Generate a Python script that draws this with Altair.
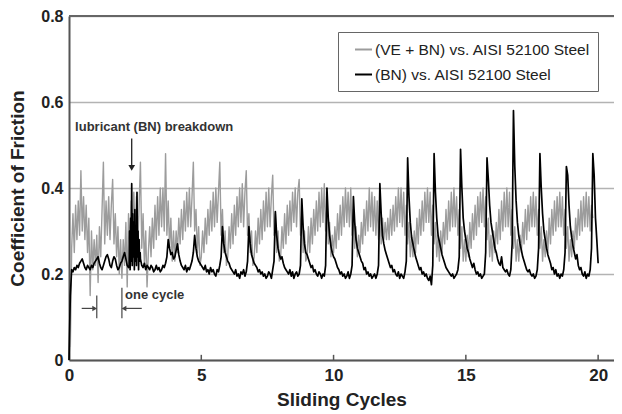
import altair as alt
import numpy as np
import pandas as pd

SERIES_GRAY = "(VE + BN) vs. AISI 52100 Steel"
SERIES_BLACK = "(BN) vs. AISI 52100 Steel"

# ---- gray series: one value every 0.05 sliding cycle, x = 0.05 ... 19.80
gray_y = [
    0.03, 0.26, 0.34, 0.25, 0.36, 0.28, 0.37, 0.29, 0.44, 0.30, 0.38, 0.28, 0.36, 0.25, 0.33, 0.15, 0.30, 0.21, 0.28,
    0.22, 0.29, 0.18, 0.31, 0.24, 0.35, 0.46, 0.27, 0.37, 0.29, 0.38, 0.28, 0.36, 0.42, 0.27, 0.34, 0.24, 0.31, 0.20, 0.28,
    0.19, 0.28, 0.22, 0.32, 0.17, 0.34, 0.26, 0.37, 0.28, 0.39, 0.29, 0.38, 0.27, 0.36, 0.46, 0.26, 0.34, 0.22, 0.30, 0.17,
    0.25, 0.31, 0.24, 0.33, 0.26, 0.36, 0.28, 0.38, 0.29, 0.40, 0.31, 0.40, 0.30, 0.48, 0.29, 0.37, 0.26, 0.33, 0.23, 0.30,
    0.23, 0.30, 0.25, 0.33, 0.27, 0.35, 0.28, 0.37, 0.30, 0.39, 0.31, 0.40, 0.31, 0.38, 0.46, 0.30, 0.35, 0.25, 0.31, 0.22,
    0.24, 0.30, 0.25, 0.33, 0.27, 0.35, 0.29, 0.37, 0.30, 0.39, 0.31, 0.40, 0.32, 0.39, 0.46, 0.29, 0.35, 0.25, 0.30, 0.22,
    0.24, 0.31, 0.26, 0.34, 0.27, 0.36, 0.29, 0.38, 0.31, 0.40, 0.32, 0.41, 0.31, 0.39, 0.44, 0.29, 0.34, 0.25, 0.30, 0.22,
    0.24, 0.30, 0.25, 0.33, 0.27, 0.35, 0.28, 0.37, 0.30, 0.39, 0.31, 0.40, 0.31, 0.38, 0.43, 0.29, 0.34, 0.25, 0.30, 0.23,
    0.24, 0.31, 0.26, 0.34, 0.27, 0.36, 0.29, 0.37, 0.30, 0.39, 0.32, 0.40, 0.31, 0.39, 0.42, 0.29, 0.34, 0.25, 0.30, 0.23,
    0.24, 0.31, 0.25, 0.33, 0.27, 0.35, 0.29, 0.37, 0.30, 0.39, 0.31, 0.40, 0.32, 0.41, 0.30, 0.36, 0.27, 0.32, 0.24, 0.29,
    0.25, 0.31, 0.26, 0.34, 0.28, 0.36, 0.29, 0.38, 0.31, 0.40, 0.32, 0.39, 0.31, 0.40, 0.29, 0.35, 0.26, 0.31, 0.24, 0.29,
    0.25, 0.32, 0.27, 0.35, 0.29, 0.37, 0.30, 0.40, 0.31, 0.39, 0.30, 0.38, 0.29, 0.37, 0.28, 0.35, 0.27, 0.33, 0.28, 0.32,
    0.28, 0.33, 0.28, 0.35, 0.29, 0.36, 0.30, 0.38, 0.31, 0.40, 0.32, 0.40, 0.31, 0.39, 0.29, 0.36, 0.27, 0.32, 0.24, 0.29,
    0.24, 0.30, 0.25, 0.33, 0.27, 0.35, 0.29, 0.37, 0.30, 0.39, 0.32, 0.40, 0.32, 0.39, 0.29, 0.36, 0.27, 0.32, 0.24, 0.29,
    0.23, 0.30, 0.25, 0.32, 0.27, 0.35, 0.28, 0.37, 0.30, 0.39, 0.31, 0.40, 0.31, 0.38, 0.29, 0.35, 0.26, 0.31, 0.23, 0.28,
    0.23, 0.29, 0.24, 0.32, 0.26, 0.34, 0.28, 0.36, 0.29, 0.38, 0.31, 0.39, 0.32, 0.40, 0.31, 0.38, 0.28, 0.33, 0.24, 0.29,
    0.23, 0.30, 0.25, 0.32, 0.27, 0.35, 0.28, 0.37, 0.30, 0.39, 0.31, 0.40, 0.31, 0.39, 0.29, 0.35, 0.26, 0.31, 0.23, 0.28,
    0.23, 0.29, 0.25, 0.32, 0.27, 0.35, 0.28, 0.36, 0.30, 0.38, 0.31, 0.39, 0.31, 0.38, 0.29, 0.35, 0.26, 0.31, 0.23, 0.28,
    0.24, 0.30, 0.25, 0.33, 0.27, 0.35, 0.29, 0.37, 0.30, 0.38, 0.31, 0.39, 0.31, 0.38, 0.29, 0.35, 0.26, 0.31, 0.23, 0.28,
    0.24, 0.30, 0.26, 0.33, 0.28, 0.35, 0.29, 0.37, 0.30, 0.38, 0.31, 0.39, 0.31, 0.38, 0.30, 0.36, 0.33,
]
gray_x0, gray_dx = 0.05, 0.05

# ---- black series, part A: every 0.05 cycle, x = 0.00 ... 2.25
black_a_y = [
    0.00, 0.15, 0.21, 0.205, 0.215, 0.21, 0.22, 0.215, 0.225, 0.23, 0.235, 0.225, 0.215, 0.21, 0.22, 0.215, 0.21, 0.22, 0.215, 0.225,
    0.23, 0.235, 0.24, 0.225, 0.215, 0.21, 0.22, 0.23, 0.24, 0.245, 0.235, 0.22, 0.215, 0.23, 0.24, 0.235, 0.22, 0.21, 0.215, 0.225,
    0.23, 0.24, 0.25, 0.235, 0.22, 0.215,
]
black_a_x0, black_a_dx = 0.00, 0.05

# part B: lubricant breakdown, every 0.02 cycle, x = 2.27 ... 2.69
black_brk_y = [
    0.22, 0.30, 0.21, 0.33, 0.23, 0.41, 0.22, 0.34, 0.24, 0.32, 0.21,
    0.35, 0.23, 0.31, 0.22, 0.39, 0.24, 0.30, 0.21, 0.28, 0.23, 0.25,
]
black_brk_x0, black_brk_dx = 2.27, 0.02

# part C: every 0.05 cycle, x = 2.70 ... 20.00
black_c_y = [
    0.235, 0.22, 0.215, 0.225, 0.21, 0.22,
    0.215, 0.21, 0.22, 0.215, 0.205, 0.21, 0.22, 0.21, 0.215, 0.205, 0.21, 0.22, 0.215, 0.225, 0.24, 0.28, 0.26, 0.245, 0.25, 0.235,
    0.24, 0.255, 0.27, 0.245, 0.23, 0.22, 0.215, 0.21, 0.22, 0.205, 0.215, 0.21, 0.22, 0.23, 0.25, 0.29, 0.26, 0.24, 0.23, 0.225,
    0.22, 0.215, 0.21, 0.22, 0.205, 0.21, 0.20, 0.215, 0.205, 0.21, 0.20, 0.195, 0.21, 0.205, 0.22, 0.24, 0.31, 0.27, 0.25, 0.24,
    0.23, 0.225, 0.215, 0.21, 0.205, 0.20, 0.21, 0.195, 0.20, 0.19, 0.205, 0.20, 0.21, 0.195, 0.205, 0.23, 0.31, 0.27, 0.245, 0.235,
    0.225, 0.22, 0.215, 0.205, 0.21, 0.20, 0.205, 0.195, 0.20, 0.19, 0.195, 0.205, 0.20, 0.19, 0.21, 0.23, 0.345, 0.29, 0.26, 0.245,
    0.235, 0.24, 0.225, 0.215, 0.21, 0.205, 0.20, 0.21, 0.195, 0.205, 0.19, 0.20, 0.205, 0.195, 0.20, 0.22, 0.375, 0.31, 0.27, 0.25,
    0.245, 0.235, 0.225, 0.215, 0.22, 0.205, 0.21, 0.20, 0.195, 0.205, 0.20, 0.19, 0.20, 0.195, 0.22, 0.40, 0.33, 0.29, 0.265, 0.25,
    0.24, 0.235, 0.225, 0.215, 0.21, 0.20, 0.205, 0.195, 0.20, 0.19, 0.195, 0.205, 0.19, 0.20, 0.22, 0.38, 0.32, 0.28, 0.26, 0.25,
    0.24, 0.23, 0.225, 0.21, 0.215, 0.20, 0.205, 0.195, 0.20, 0.19, 0.195, 0.20, 0.19, 0.20, 0.22, 0.41, 0.34, 0.29, 0.27, 0.255,
    0.245, 0.235, 0.225, 0.215, 0.22, 0.205, 0.21, 0.20, 0.195, 0.205, 0.19, 0.20, 0.195, 0.19, 0.205, 0.23, 0.47, 0.38, 0.32, 0.285,
    0.27, 0.255, 0.24, 0.23, 0.22, 0.21, 0.215, 0.20, 0.205, 0.195, 0.20, 0.19, 0.185, 0.195, 0.175, 0.22, 0.48, 0.39, 0.33, 0.29,
    0.275, 0.26, 0.245, 0.235, 0.225, 0.215, 0.21, 0.205, 0.20, 0.195, 0.20, 0.19, 0.195, 0.20, 0.21, 0.24, 0.49, 0.40, 0.33, 0.30,
    0.28, 0.26, 0.25, 0.235, 0.225, 0.215, 0.225, 0.21, 0.20, 0.205, 0.195, 0.20, 0.19, 0.195, 0.20, 0.25, 0.47, 0.42, 0.36, 0.32,
    0.30, 0.28, 0.26, 0.25, 0.235, 0.225, 0.22, 0.24, 0.215, 0.21, 0.205, 0.21, 0.20, 0.195, 0.21, 0.27, 0.58, 0.45, 0.37, 0.32,
    0.29, 0.27, 0.255, 0.24, 0.23, 0.22, 0.21, 0.205, 0.21, 0.20, 0.195, 0.20, 0.19, 0.195, 0.21, 0.26, 0.48, 0.40, 0.34, 0.30,
    0.28, 0.26, 0.245, 0.235, 0.225, 0.21, 0.215, 0.20, 0.21, 0.195, 0.20, 0.19, 0.20, 0.195, 0.21, 0.25, 0.45, 0.43, 0.36, 0.31,
    0.285, 0.265, 0.25, 0.235, 0.245, 0.22, 0.21, 0.215, 0.20, 0.195, 0.205, 0.19, 0.20, 0.195, 0.21, 0.26, 0.48, 0.43, 0.33, 0.28,
    0.225,
]
black_c_x0, black_c_dx = 2.70, 0.05

x_tick_values = [5, 10, 15, 20]


def grid(y, x0, dx):
    return np.round(x0 + dx * np.arange(len(y)), 3)


gray_df = pd.DataFrame({"x": grid(gray_y, gray_x0, gray_dx), "y": gray_y, "series": SERIES_GRAY})
black_df = pd.DataFrame({
    "x": np.concatenate([grid(black_a_y, black_a_x0, black_a_dx),
                         grid(black_brk_y, black_brk_x0, black_brk_dx),
                         grid(black_c_y, black_c_x0, black_c_dx)]),
    "y": black_a_y + black_brk_y + black_c_y,
    "series": SERIES_BLACK,
})

FONT = "Liberation Sans"
xs = alt.Scale(domain=[0, 20.6], nice=False, zero=False)
ys = alt.Scale(domain=[0, 0.8], nice=False)
color_scale = alt.Scale(domain=[SERIES_GRAY, SERIES_BLACK], range=["#9c9c9c", "#000000"])

x_axis = alt.Axis(values=[0, 5, 10, 15, 20], title="Sliding Cycles", grid=False, ticks=False,
                  labelFlush=False, labelFontSize=17, labelFontWeight="bold", labelFont=FONT,
                  labelColor="#222", labelPadding=7, titleFontSize=19, titleFontWeight="bold",
                  titleFont=FONT, titleColor="#222", titlePadding=7, domainColor="#555", domainWidth=2)
y_axis = alt.Axis(values=[0, 0.2, 0.4, 0.6, 0.8],
                  labelExpr="datum.value == 0 ? '0' : format(datum.value, '.1f')",
                  title="Coefficient of Friction", ticks=False, labelFontSize=16, labelFontWeight="bold",
                  labelFont=FONT, labelColor="#222", labelPadding=6, titleFontSize=19,
                  titleFontWeight="bold", titleFont=FONT, titleColor="#222", titlePadding=13,
                  domainColor="#555", domainWidth=2, gridColor="#b3b3b3", gridWidth=1.5)

gray_line = alt.Chart(gray_df).mark_line(strokeWidth=1.4, strokeJoin="round").encode(
    x=alt.X("x:Q", scale=xs, axis=x_axis),
    y=alt.Y("y:Q", scale=ys, axis=y_axis),
    color=alt.Color("series:N", scale=color_scale, sort=[SERIES_GRAY, SERIES_BLACK],
                    legend=alt.Legend(title=None)),
)
black_line = alt.Chart(black_df).mark_line(strokeWidth=1.7, strokeJoin="round").encode(
    x="x:Q", y="y:Q",
    color=alt.Color("series:N", scale=color_scale, sort=[SERIES_GRAY, SERIES_BLACK]),
)

top_border = alt.Chart(pd.DataFrame({"y": [0.8]})).mark_rule(color="#666", strokeWidth=2).encode(y="y:Q")

tick_df = pd.DataFrame({"x": x_tick_values, "y": [0.0] * 4, "y2": [0.012] * 4})
ticks = alt.Chart(tick_df).mark_rule(color="#555", strokeWidth=1.5).encode(x="x:Q", y="y:Q", y2="y2")

lab_df = pd.DataFrame({"x": [0.23, 2.12], "y": [0.542, 0.151],
                       "t": ["lubricant (BN) breakdown", "one cycle"]})
labels = alt.Chart(lab_df).mark_text(align="left", baseline="middle", font=FONT, fontSize=13,
                                     fontWeight="bold", color="#333").encode(x="x:Q", y="y:Q", text="t:N")

arrow_v = alt.Chart(pd.DataFrame({"x": [2.37], "y": [0.515], "y2": [0.452]})).mark_rule(
    color="#222", strokeWidth=1.3).encode(x="x:Q", y="y:Q", y2="y2")
arrow_v_head = alt.Chart(pd.DataFrame({"x": [2.37], "y": [0.447]})).mark_point(
    shape="triangle-down", filled=True, size=45, color="#222", opacity=1).encode(x="x:Q", y="y:Q")

cyc_v = alt.Chart(pd.DataFrame({"x": [1.05, 2.0], "y": [0.097, 0.097], "y2": [0.15, 0.168]})).mark_rule(
    color="#444", strokeWidth=1.2).encode(x="x:Q", y="y:Q", y2="y2")
cyc_h = alt.Chart(pd.DataFrame({"x": [0.48, 2.08], "x2": [0.97, 2.75], "y": [0.12, 0.12]})).mark_rule(
    color="#444", strokeWidth=1.2).encode(x="x:Q", x2="x2", y="y:Q")
cyc_heads = alt.Chart(pd.DataFrame({"x": [0.97, 2.08], "y": [0.12, 0.12],
                                    "s": ["triangle-right", "triangle-left"]})).mark_point(
    filled=True, size=30, color="#444", opacity=1).encode(
    x="x:Q", y="y:Q", shape=alt.Shape("s:N", scale=None, legend=None))

chart = alt.layer(
    top_border, gray_line, black_line, ticks, labels, arrow_v, arrow_v_head, cyc_v, cyc_h, cyc_heads
).resolve_scale(color="shared").properties(
    width=545, height=344,
    autosize=alt.AutoSizeParams(type="none"),
    padding={"left": 61, "top": 8, "right": 0, "bottom": 50},
).configure_view(stroke=None).configure_legend(
    orient="none", legendX=269, legendY=16, strokeColor="#666", fillColor="white", padding=8,
    labelFontSize=15.5, labelFont=FONT, labelColor="#222", symbolType="stroke", symbolSize=289,
    symbolStrokeWidth=2, symbolOffset=8, labelOffset=2, rowPadding=7, labelLimit=400,
)

chart.save("out.html", embed_options={"renderer": "svg", "actions": False})
